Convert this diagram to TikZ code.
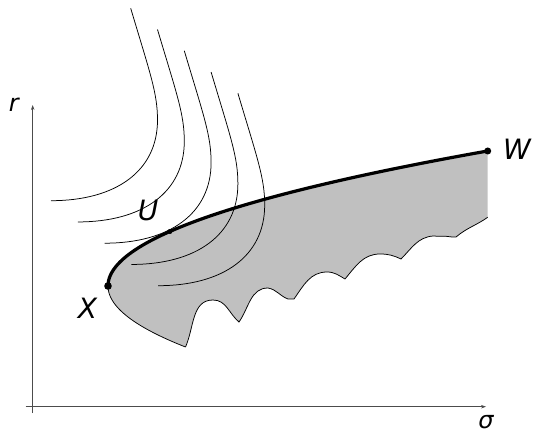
\documentclass[tikz,border=0pt]{standalone}
\usepackage{fontspec}
\setmainfont{DejaVu Sans}
\usetikzlibrary{arrows.meta}
\definecolor{regiongrey}{RGB}{192,192,192}
\begin{document}
\begin{tikzpicture}[x=1pt,y=1pt,
  axis/.style={line width=0.7pt, draw=black!70, -{Stealth[length=5pt,width=3.5pt]}},
  level/.style={line width=0.75pt},
  edgeline/.style={line width=0.75pt},
  ridge/.style={line width=3.2pt, line cap=round},
  region/.style={fill=regiongrey},
  lab/.style={inner sep=0pt, anchor=base, font=\fontsize{28}{30}\selectfont\itshape},
  smalllab/.style={inner sep=0pt, anchor=base, font=\fontsize{24}{26}\selectfont\itshape}
]
\useasboundingbox (0,0) rectangle (534,433);
\def\k{0.02083}
\coordinate (X) at (108,147);
\coordinate (W) at (487.7,282);
\coordinate (C0) at (185.5,86);
\coordinate (E) at (487.7,215.7);
\coordinate (U) at (169.9,201.5);
\def\scallops{to[out=66,in=180] (213,133) to[out=0,in=140] (239,111)
  to[out=55,in=180] (268,145) to[out=-10,in=160] (288,134) -- (294,134)
  to[out=55,in=180] (327,161) to[out=0,in=150] (345,154)
  to[out=50,in=180] (380,179) to[out=0,in=155] (401,174)
  to[out=45,in=185] (433,197) to[out=-5,in=170] (452,196) -- (456,196)
  to[out=40,in=215] (E)}
% shaded region
\fill[region] (C0) \scallops -- (W) -- plot[domain=0:196, samples=150, variable=\t] ({108+\k*(135-\t)*(135-\t)}, {282-\t}) -- cycle;
% its thin boundary
\draw[edgeline] (C0) \scallops;
\draw[edgeline] plot[domain=86:147, samples=60, variable=\t] ({108+\k*(\t-147)*(\t-147)}, \t);
% level curves
\foreach \i in {0,...,4} {
  \draw[level, shift={(\i*26.8,-\i*21.25)}] (130.7,424.7) .. controls (150,360) and (157.5,340) .. (157.5,313) .. controls (157.5,262) and (116,232.3) .. (51,232.3);
}
% thick curve
\draw[ridge] plot[domain=147:282, samples=150, variable=\t] ({108+\k*(\t-147)*(\t-147)}, \t);
\fill (X) circle (3.8);
\fill (W) circle (3.5);
\fill (U) circle (2.5);
% axes
\coordinate (vb) at (32.7,20);
\coordinate (vt) at (32.7,328);
\coordinate (hl) at (25.5,26.3);
\coordinate (hr) at (486,26.3);
\draw[axis] (vb) -- (vt);
\draw[axis] (hl) -- (hr);
% labels
\node[smalllab] (rlab) at (13.8,321.3) {r};
\node[smalllab] (slab) at (486,5) {σ};
\node[lab] (xlab) at (87.5,114.7) {X};
\node[lab] (ulab) at (148,212) {U};
\node[lab] (wlab) at (517,273) {W};
\end{tikzpicture}
\end{document}
